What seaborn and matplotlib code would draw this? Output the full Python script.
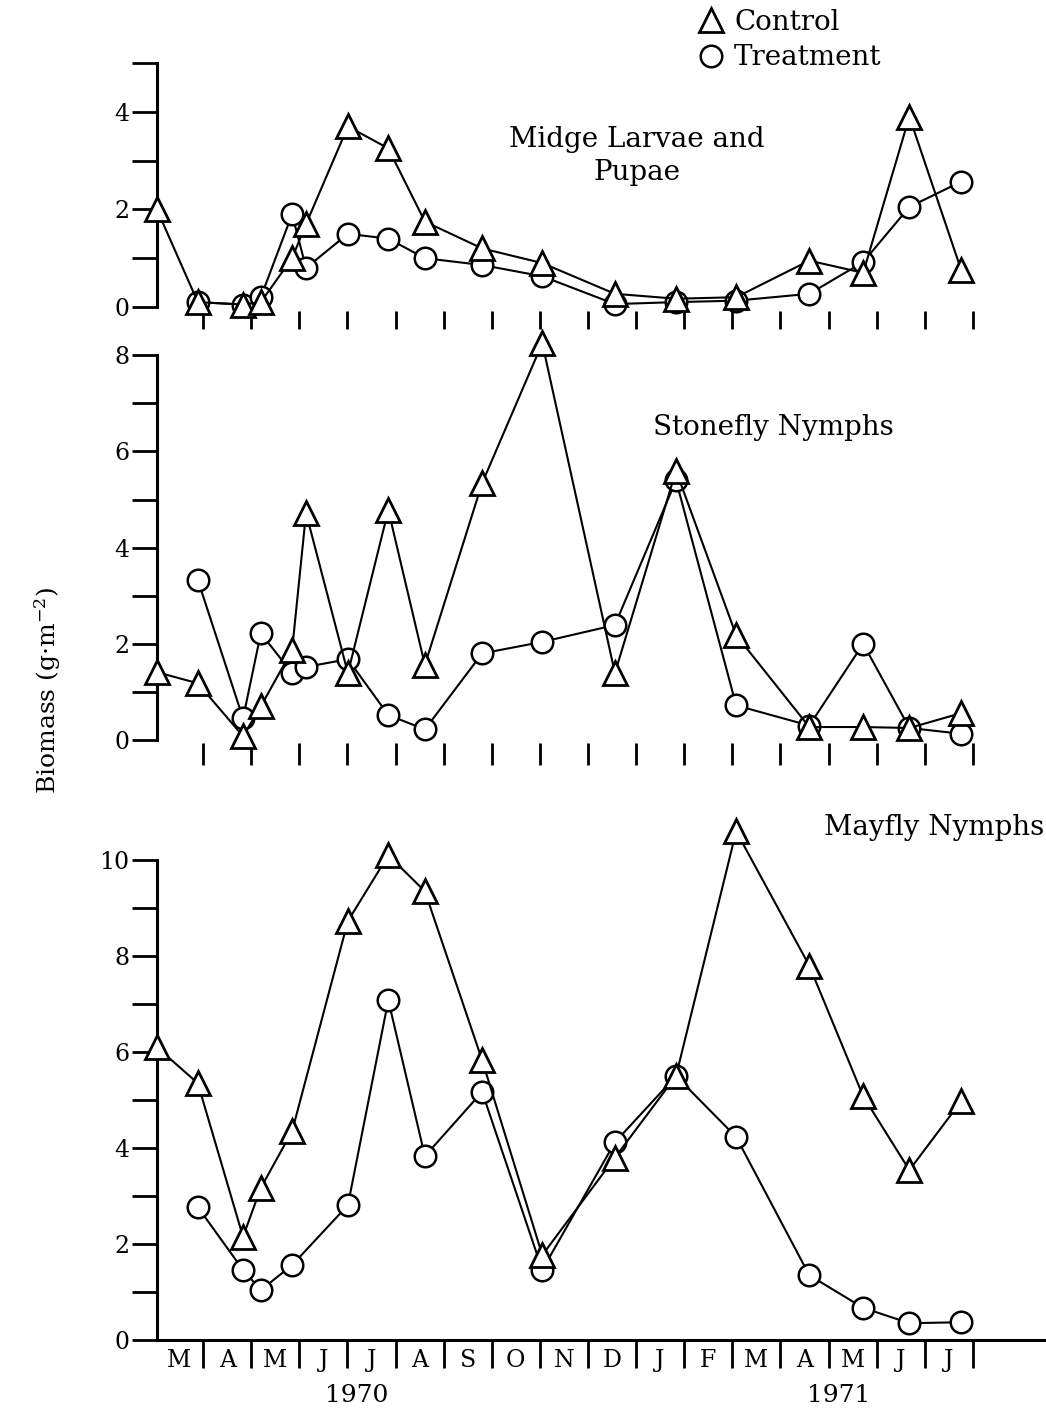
import numpy as np
import pandas as pd
import matplotlib
matplotlib.use("Agg")
import matplotlib.pyplot as plt
import seaborn as sns
from matplotlib.lines import Line2D
from matplotlib.transforms import blended_transform_factory

nan = np.nan

# sampling dates, in months counted from 1 March 1970
sample_month = [0.04, 0.89, 1.83, 2.20, 2.85, 3.14, 4.01, 4.85, 5.61, 6.80,
                8.05, 9.56, 10.83, 12.08, 13.60, 14.72, 15.68, 16.76]

midge_control = [2.0, 0.1, 0.05, 0.1, 1.0, 1.7, 3.7, 3.25, 1.75, 1.2,
                 0.9, 0.27, 0.17, 0.2, 0.95, 0.7, 3.9, 0.75]
midge_treatment = [nan, 0.1, 0.05, 0.2, 1.9, 0.8, 1.5, 1.4, 1.0, 0.86,
                   0.63, 0.06, 0.1, 0.13, 0.27, 0.92, 2.05, 2.57]

stonefly_control = [1.41, 1.18, 0.08, 0.7, 1.87, 4.72, 1.39, 4.78, 1.56, 5.34,
                    8.25, 1.39, 5.6, 2.18, 0.27, 0.27, 0.25, 0.56]
stonefly_treatment = [nan, 3.33, 0.45, 2.22, 1.39, 1.52, 1.68, 0.52, 0.22, 1.8,
                      2.04, 2.39, 5.4, 0.72, 0.3, 2.0, 0.25, 0.13]

mayfly_control = [6.1, 5.35, 2.15, 3.17, 4.35, nan, 8.73, 10.1, 9.35, 5.83,
                  1.77, 3.8, 5.5, 10.6, 7.8, 5.08, 3.54, 4.98]
mayfly_treatment = [nan, 2.77, 1.46, 1.04, 1.56, nan, 2.81, 7.08, 3.83, 5.17,
                    1.46, 4.12, 5.5, 4.23, 1.35, 0.67, 0.35, 0.37]

month_labels = ["M", "A", "M", "J", "J", "A", "S", "O", "N", "D",
                "J", "F", "M", "A", "M", "J", "J"]
year_labels = ["1970", "1971"]
year_month_pos = [4.2, 14.2]

panel_titles = ["Midge Larvae and\nPupae", "Stonefly Nymphs", "Mayfly Nymphs"]
panel_yticks = [list(range(0, 6)), list(range(0, 9)), list(range(0, 11))]

series_labels = ["Control", "Treatment"]

# ---------------------------------------------------------------------------
sns.set_style("white")
plt.rcParams["font.family"] = ["DejaVu Serif"]
plt.rcParams["mathtext.fontset"] = "dejavuserif"
for k in ["text.color", "axes.labelcolor", "xtick.color", "ytick.color", "axes.edgecolor"]:
    plt.rcParams[k] = "black"

W, H = 1046, 1412
fig = plt.figure(figsize=(W / 100, H / 100), dpi=100)


def px_axes(left, top, right, bottom):
    return fig.add_axes([left / W, 1 - bottom / H, (right - left) / W, (bottom - top) / H])


ax1 = px_axes(157, 40, 1046, 311)
ax2 = px_axes(157, 335, 1046, 743)
ax3 = px_axes(157, 790, 1046, 1340)
axes = [ax1, ax2, ax3]

ylims = [(-0.082, 5.471), (-0.062, 8.42), (0.0, 11.46)]
xlim = (0.042, 18.52)

data = [(midge_control, midge_treatment),
        (stonefly_control, stonefly_treatment),
        (mayfly_control, mayfly_treatment)]

tri_kw = dict(color="black", lw=1.5, marker="^", markersize=17,
              markerfacecolor="white", markeredgecolor="black",
              markeredgewidth=2.0, estimator=None, sort=False,
              clip_on=False, legend=False)
circ_kw = dict(color="black", lw=1.5, marker="o", markersize=15.5,
               markerfacecolor="white", markeredgecolor="black",
               markeredgewidth=1.8, estimator=None, sort=False,
               clip_on=False, legend=False)

for ax, (ctrl, trt) in zip(axes, data):
    dc = pd.DataFrame({"month": sample_month, "biomass": ctrl}).dropna()
    dt = pd.DataFrame({"month": sample_month, "biomass": trt}).dropna()
    sns.lineplot(data=dt, x="month", y="biomass", ax=ax, zorder=3, **circ_kw)
    sns.lineplot(data=dc, x="month", y="biomass", ax=ax, zorder=4, **tri_kw)

boundaries = np.arange(1, len(month_labels) + 1)
centers = np.arange(len(month_labels)) + 0.5

for ax, yl, yt in zip(axes, ylims, panel_yticks):
    ax.set_xlim(*xlim)
    ax.set_ylim(*yl)
    ax.set_xlabel("")
    ax.set_ylabel("")
    ax.set_facecolor("none")
    for s in ["top", "right"]:
        ax.spines[s].set_visible(False)
    ax.spines["left"].set_linewidth(2.2)
    ax.spines["left"].set_bounds(yt[0], yt[-1])
    ax.set_yticks(yt)
    ax.set_yticklabels([str(v) if v % 2 == 0 else "" for v in yt])
    ax.tick_params(axis="y", direction="out", length=18, width=2, pad=2,
                   labelsize=17, left=True)
    ax.set_xticks(boundaries)

for ax, ln in zip([ax1, ax2], [13, 16]):
    ax.spines["bottom"].set_visible(False)
    ax.set_xticklabels([])
    ax.tick_params(axis="x", direction="out", length=ln, width=2, bottom=True)

ax3.spines["bottom"].set_linewidth(2.2)
ax3.set_xticklabels([])
ax3.tick_params(axis="x", which="major", direction="out", length=20, width=2, bottom=True)
ax3.set_xticks(centers, minor=True)
ax3.set_xticklabels(month_labels, minor=True)
ax3.tick_params(axis="x", which="minor", length=0, pad=6.5, labelsize=17)

tr3 = blended_transform_factory(ax3.transData, fig.transFigure)
for lab, xm in zip(year_labels, year_month_pos):
    ax3.text(xm, 1 - 1396 / H, lab, transform=tr3, ha="center", va="center", fontsize=18)

# panel titles
ax1.text(10.02, 3.1, panel_titles[0], ha="center", va="center", fontsize=20,
         multialignment="center", linespacing=1.3)
ax2.text(12.85, 6.49, panel_titles[1], ha="center", va="center", fontsize=20)
ax3.text(13.9, 10.67, panel_titles[2], ha="left", va="center", fontsize=20)

fig.text(48 / W, 1 - 690 / H, "Biomass (g·m$^{-2}$)", rotation=90,
         ha="center", va="center", fontsize=18)

handles = [Line2D([], [], ls="none", marker="^", markersize=17, markerfacecolor="white",
                  markeredgecolor="black", markeredgewidth=2.0),
           Line2D([], [], ls="none", marker="o", markersize=15.5, markerfacecolor="white",
                  markeredgecolor="black", markeredgewidth=1.8)]
fig.legend(handles, series_labels, loc="upper left",
           bbox_to_anchor=(698 / W, 1 - 9 / H), frameon=False, fontsize=20,
           handlelength=0.9, handletextpad=0.4, labelspacing=0.3,
           borderaxespad=0, borderpad=0)

fig.savefig("out.png", dpi=100, facecolor="white")
